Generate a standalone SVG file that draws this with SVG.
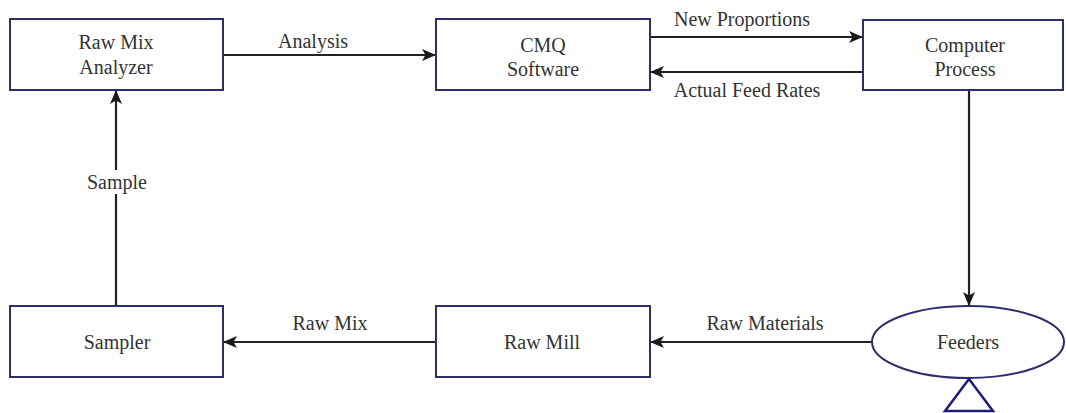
<svg xmlns="http://www.w3.org/2000/svg" width="1066" height="413" viewBox="0 0 1066 413">
<style>
.box{fill:#fff;stroke:#2e2e6a;stroke-width:2}
.t{font-family:"Liberation Serif","Times New Roman",serif;font-size:20px;fill:#333;text-anchor:middle}
.c{fill:none;stroke:#222;stroke-width:2.2}
</style>
<defs>
<marker id="ah" viewBox="0 0 14 12" refX="13" refY="6" markerWidth="14" markerHeight="12" markerUnits="userSpaceOnUse" orient="auto">
<path d="M0,0 L14,6 L0,12 L3.5,6 z" fill="#1a1a1a"/>
</marker>
</defs>
<rect width="1066" height="413" fill="#fff"/>
<g id="connectors">
<line class="c" x1="223" y1="55" x2="435" y2="55" marker-end="url(#ah)"/>
<line class="c" x1="650" y1="37" x2="862" y2="37" marker-end="url(#ah)"/>
<line class="c" x1="863" y1="72" x2="651" y2="72" marker-end="url(#ah)"/>
<line class="c" x1="969" y1="90" x2="969" y2="305" marker-end="url(#ah)"/>
<line class="c" x1="872" y1="342" x2="651" y2="342" marker-end="url(#ah)"/>
<line class="c" x1="436" y1="342" x2="224" y2="342" marker-end="url(#ah)"/>
<line class="c" x1="116" y1="306" x2="116" y2="91" marker-end="url(#ah)"/>
<text class="t" x="313" y="48">Analysis</text>
<text class="t" x="742" y="26">New Proportions</text>
<text class="t" x="747" y="97">Actual Feed Rates</text>
<text class="t" x="765" y="330">Raw Materials</text>
<text class="t" x="330" y="330">Raw Mix</text>
<rect x="84" y="170" width="66" height="24" fill="#fff"/>
<text class="t" x="117" y="189">Sample</text>
</g>
<g id="analyzer">
<rect class="box" x="10" y="19" width="213" height="71"/>
<text class="t" x="116" y="49">Raw Mix</text>
<text class="t" x="116" y="74">Analyzer</text>
</g>
<g id="cmq">
<rect class="box" x="436" y="19" width="214" height="71"/>
<text class="t" x="543" y="52">CMQ</text>
<text class="t" x="543" y="76">Software</text>
</g>
<g id="computer">
<rect class="box" x="863" y="20" width="200" height="70"/>
<text class="t" x="965" y="52">Computer</text>
<text class="t" x="965" y="76">Process</text>
</g>
<g id="sampler">
<rect class="box" x="10" y="306" width="213" height="71"/>
<text class="t" x="117" y="349">Sampler</text>
</g>
<g id="rawmill">
<rect class="box" x="436" y="306" width="214" height="71"/>
<text class="t" x="542" y="349">Raw Mill</text>
</g>
<g id="feeders">
<ellipse class="box" cx="968" cy="342" rx="96" ry="36"/>
<text class="t" x="968" y="349">Feeders</text>
<polygon points="969,379 945,411 993,411" fill="none" stroke="#1c1c7a" stroke-width="2.5"/>
</g>
</svg>
